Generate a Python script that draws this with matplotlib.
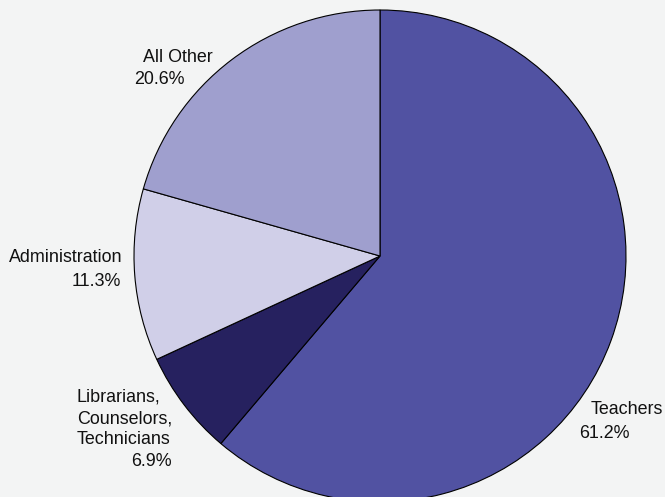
import matplotlib.pyplot as plt

labels = ["Teachers", "Librarians,\nCounselors,\nTechnicians", "Administration", "All Other"]
shares = [61.2, 6.9, 11.3, 20.6]
colors = ["#5152a2", "#26215f", "#d0cfe8", "#9f9fce"]

W, H = 665, 497
fig = plt.figure(figsize=(W / 100, H / 100), dpi=100)
fig.patch.set_facecolor("#f3f4f4")
ax = fig.add_axes([0, 0, 1, 1])
ax.set_facecolor("#f3f4f4")

# pie in pixel coordinates (y up)
cx, cy, r = 380, H - 256, 246
ax.pie(shares, colors=colors, startangle=90, counterclock=False,
       center=(cx, cy), radius=r,
       wedgeprops=dict(edgecolor="black", linewidth=0.8))
ax.set_xlim(0, W)
ax.set_ylim(0, H)
ax.set_aspect("equal")
ax.axis("off")

plt.rcParams['font.family'] = ['Liberation Sans', 'DejaVu Sans']
fs = 12.9

def put(x, y, s, ha="left"):
    ax.text(x, H - y, s, ha=ha, va="center", fontsize=fs, color="#111111")

# label lines (pixel positions measured top-down)
put(143, 57, "All Other")
put(134, 80, f"{shares[3]}%")
put(122, 257, "Administration", ha="right")
put(121, 281, f"{shares[2]}%", ha="right")
for i, line in enumerate(labels[1].split("\n")):
    put(77, 397 + i * 21.5, line)
put(172, 462, f"{shares[1]}%", ha="right")
put(591, 410, labels[0])
put(579, 433, f"{shares[0]}%")

fig.savefig("out.png", dpi=100, facecolor=fig.get_facecolor())
